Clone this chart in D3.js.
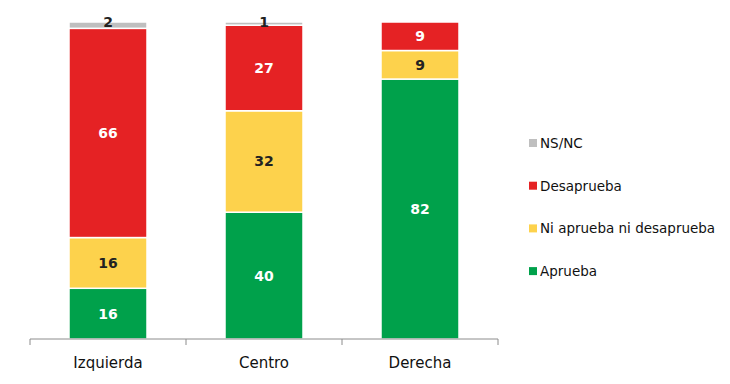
<!DOCTYPE html>
<html>
<head>
<meta charset="utf-8">
<script src="https://cdn.jsdelivr.net/npm/d3@7"></script>
<style>
  body { margin: 0; background: #fff; }
  text { font-family: "DejaVu Sans", Verdana, sans-serif; }
</style>
</head>
<body>
<div id="chart"></div>
<script>
const categories = ["Izquierda", "Centro", "Derecha"];
const seriesNames = ["Aprueba", "Ni aprueba ni desaprueba", "Desaprueba", "NS/NC"];
const aprueba = [16, 40, 82];
const niNi = [16, 32, 9];
const desaprueba = [66, 27, 9];
const nsnc = [2, 1, 0];
const legendOrder = ["NS/NC", "Desaprueba", "Ni aprueba ni desaprueba", "Aprueba"];

const colors = {
  "Aprueba": "#00a14b",
  "Ni aprueba ni desaprueba": "#fdd24c",
  "Desaprueba": "#e52224",
  "NS/NC": "#bfbfbf"
};
const labelColors = {
  "Aprueba": "#ffffff",
  "Ni aprueba ni desaprueba": "#222222",
  "Desaprueba": "#ffffff",
  "NS/NC": "#222222"
};

const width = 730, height = 384;
const margin = {top: 22, left: 30, bottom: 45};
const plotWidth = 468;

const svg = d3.select("#chart").append("svg")
  .attr("width", width)
  .attr("height", height);

const data = categories.map((c, i) => ({
  cat: c,
  "Aprueba": aprueba[i],
  "Ni aprueba ni desaprueba": niNi[i],
  "Desaprueba": desaprueba[i],
  "NS/NC": nsnc[i]
}));

const stack = d3.stack().keys(seriesNames)(data);

const x = d3.scaleBand()
  .domain(categories)
  .range([margin.left, margin.left + plotWidth])
  .paddingInner(0.5)
  .paddingOuter(0.25);

const y = d3.scaleLinear()
  .domain([0, 100])
  .range([height - margin.bottom, margin.top]);

// segments
const layers = svg.append("g").selectAll("g")
  .data(stack)
  .join("g")
  .attr("fill", d => colors[d.key]);

layers.selectAll("rect")
  .data(d => d.map(v => Object.assign(v, {key: d.key})))
  .join("rect")
  .attr("x", d => x(d.data.cat))
  .attr("y", d => y(d[1]))
  .attr("width", x.bandwidth())
  .attr("height", d => Math.max(0, y(d[0]) - y(d[1])))
  .attr("stroke", "#fff")
  .attr("stroke-width", d => (d[1] - d[0]) > 0 ? 1.5 : 0);

// value labels
layers.selectAll("text")
  .data(d => d.filter(v => v[1] - v[0] > 0))
  .join("text")
  .attr("x", d => x(d.data.cat) + x.bandwidth() / 2)
  .attr("y", d => {
    const v = d[1] - d[0];
    return v < 4 ? y(d[1]) + 5 : (y(d[0]) + y(d[1])) / 2 + 5;
  })
  .attr("text-anchor", "middle")
  .attr("font-size", 14)
  .attr("font-weight", "bold")
  .attr("fill", d => labelColors[d.key])
  .text(d => d[1] - d[0]);

// axis
const axisY = y(0);
const axis = svg.append("g");
axis.append("line")
  .attr("x1", margin.left).attr("x2", margin.left + plotWidth)
  .attr("y1", axisY).attr("y2", axisY)
  .attr("stroke", "#8c8c8c");
const tickPos = [margin.left].concat(categories.map(c => x(c) + x.bandwidth() + x.step() * x.paddingInner() / 2));
tickPos[tickPos.length - 1] = margin.left + plotWidth;
axis.selectAll(".tick")
  .data(tickPos)
  .join("line")
  .attr("x1", d => d).attr("x2", d => d)
  .attr("y1", axisY).attr("y2", axisY + 6)
  .attr("stroke", "#8c8c8c");
axis.selectAll(".cat")
  .data(categories)
  .join("text")
  .attr("x", d => x(d) + x.bandwidth() / 2)
  .attr("y", axisY + 29)
  .attr("text-anchor", "middle")
  .attr("font-size", 15)
  .attr("fill", "#111")
  .text(d => d);

// legend
const legend = svg.append("g").attr("transform", "translate(529,143)");
const item = legend.selectAll("g")
  .data(legendOrder)
  .join("g")
  .attr("transform", (d, i) => `translate(0,${i * 42.7})`);
item.append("rect")
  .attr("x", 0).attr("y", -4)
  .attr("width", 8).attr("height", 8)
  .attr("fill", d => colors[d]);
item.append("text")
  .attr("x", 11)
  .attr("y", 5)
  .attr("font-size", 13.5)
  .attr("fill", "#111")
  .text(d => d);
</script>
</body>
</html>
